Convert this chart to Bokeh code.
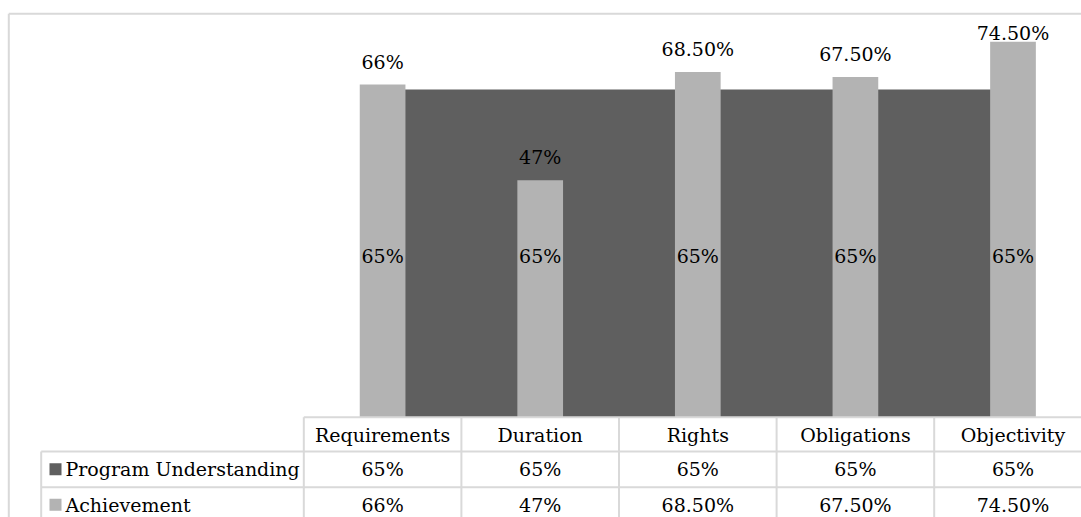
import numpy as np
from bokeh.plotting import figure
from bokeh.models import Range1d
from bokeh.core.properties import value
from bokeh.embed import file_html
from bokeh.resources import INLINE

# ---------------- data ----------------
categories = ["Requirements", "Duration", "Rights", "Obligations", "Objectivity"]
series_names = ["Program Understanding", "Achievement"]
program = [0.65, 0.65, 0.65, 0.65, 0.65]
achievement = [0.66, 0.47, 0.685, 0.675, 0.745]
program_labels = ["65%", "65%", "65%", "65%", "65%"]
achievement_labels = ["66%", "47%", "68.50%", "67.50%", "74.50%"]

# ---------------- layout (pixels) ----------------
W, H = 1081, 517
FONT = value("DejaVu Serif")
FS = "19px"
GRID = "#d9d9d9"
DARK = "#5f5f5f"
LIGHT = "#b3b3b3"

plot_left = 303.3      # left edge of plot area / table columns
cat_w = 157.6          # width of one category
base_px = 416.7        # y pixel of value 0
px_per_unit = 504.0    # pixels per 1.0 (100%)

x_start = -0.5 - plot_left / cat_w
x_end = x_start + W / cat_w
y_top = base_px / px_per_unit
y_bot = y_top - H / px_per_unit


def xd(px):
    return x_start + px / cat_w


def yd(py):
    return y_top - py / px_per_unit


p = figure(width=W, height=H, x_range=Range1d(x_start, x_end),
           y_range=Range1d(y_bot, y_top), output_backend="svg",
           toolbar_location=None, min_border=0, x_axis_location=None,
           y_axis_location=None, outline_line_color=None)
p.grid.visible = False
p.background_fill_color = "white"
p.border_fill_color = "white"

idx = np.arange(len(categories))

# area series
p.varea(x=idx, y1=np.zeros(len(idx)), y2=program, fill_color=DARK)

# column series
p.vbar(x=idx, top=achievement, width=0.29, bottom=0,
       fill_color=LIGHT, line_color=None)

# data labels
p.text(x=idx, y=np.array(program) / 2, text=program_labels,
       text_font=FONT, text_font_size=FS, text_align="center",
       text_baseline="middle", text_color="black", y_offset=3)

lab_y = np.minimum(np.array(achievement) + 23 / px_per_unit, yd(32))
p.text(x=idx, y=lab_y, text=achievement_labels,
       text_font=FONT, text_font_size=FS, text_align="center",
       text_baseline="middle", text_color="black")

# ---------------- outer chart border ----------------
p.segment(x0=[xd(8.3), xd(8.3)], y0=[yd(13.3), yd(13.3)],
          x1=[xd(W + 20), xd(8.3)], y1=[yd(13.3), yd(H + 20)],
          line_color=GRID, line_width=2)

# ---------------- data table ----------------
row_tops = [416.7, 451.0, 486.7]
row_h = 35.3
leg_left = 40.7
ncol = len(categories)
col_edges = [plot_left + k * cat_w for k in range(ncol + 1)]

x0s, y0s, x1s, y1s = [], [], [], []
x0s.append(xd(plot_left)); y0s.append(yd(row_tops[0]))
x1s.append(xd(W + 20)); y1s.append(yd(row_tops[0]))
for r in row_tops[1:]:
    x0s.append(xd(leg_left)); y0s.append(yd(r))
    x1s.append(xd(W + 20)); y1s.append(yd(r))
for e in col_edges:
    x0s.append(xd(e)); y0s.append(yd(row_tops[0]))
    x1s.append(xd(e)); y1s.append(yd(H + 20))
x0s.append(xd(leg_left)); y0s.append(yd(row_tops[1]))
x1s.append(xd(leg_left)); y1s.append(yd(H + 20))
p.segment(x0=x0s, y0=y0s, x1=x1s, y1=y1s, line_color=GRID, line_width=2)

# header labels
p.text(x=idx, y=[yd(row_tops[0] + row_h / 2)] * ncol, text=categories,
       text_font=FONT, text_font_size=FS, text_align="center",
       text_baseline="middle", text_color="black")
p.text(x=idx, y=[yd(row_tops[1] + row_h / 2)] * ncol, text=program_labels,
       text_font=FONT, text_font_size=FS, text_align="center",
       text_baseline="middle", text_color="black")
p.text(x=idx, y=[yd(row_tops[2] + row_h / 2)] * ncol, text=achievement_labels,
       text_font=FONT, text_font_size=FS, text_align="center",
       text_baseline="middle", text_color="black")

# legend keys + names
key_y = [yd(row_tops[1] + row_h / 2), yd(row_tops[2] + row_h / 2)]
p.scatter(x=[xd(55), xd(55)], y=key_y, marker="square", size=12,
          fill_color=[DARK, LIGHT], line_color=None)
p.text(x=[xd(65), xd(65)], y=key_y, text=series_names,
       text_font=FONT, text_font_size=FS, text_align="left",
       text_baseline="middle", text_color="black")

open("out.html", "w").write(file_html(p, INLINE))
